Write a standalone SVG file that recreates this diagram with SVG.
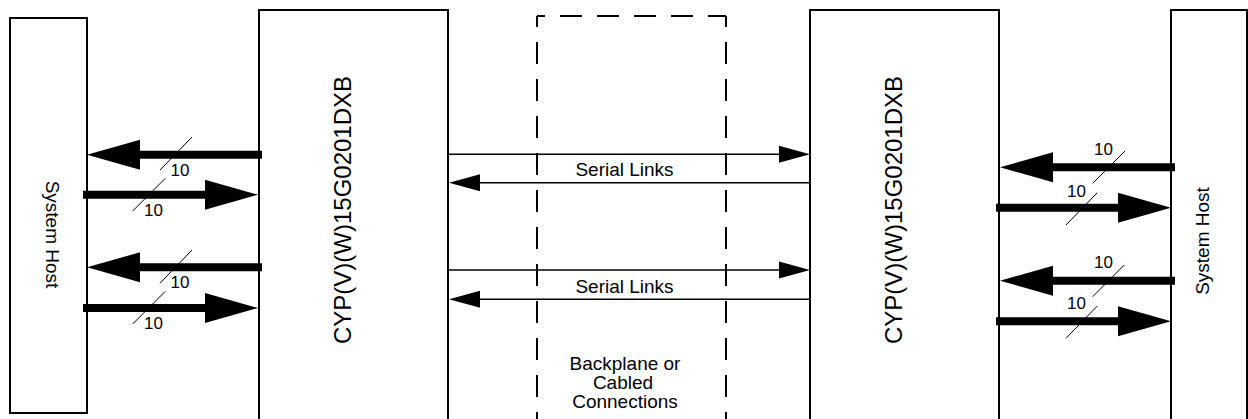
<svg xmlns="http://www.w3.org/2000/svg" width="1248" height="419" viewBox="0 0 1248 419">
<style>
.box{fill:#fff;stroke:#000;stroke-width:2}
.dash{fill:none;stroke:#000;stroke-width:2;stroke-dasharray:22 15}
.t{font-family:"Liberation Sans",Arial,sans-serif;fill:#000}
.lbl{font-size:19px;text-anchor:middle}
.chip{font-size:24px;text-anchor:middle}
.num{font-size:17px}
.bus{stroke:#000;stroke-width:8;fill:none;marker-end:url(#big)}
.ser{stroke:#000;stroke-width:1.5;fill:none;marker-end:url(#small)}
.sl{stroke:#000;stroke-width:1;fill:none}
</style>
<defs>
<marker id="big" markerUnits="userSpaceOnUse" markerWidth="53" markerHeight="30" refX="0" refY="15" orient="auto" overflow="visible">
<path d="M0,0 L53,15 L0,30 Z" fill="#000"/>
</marker>
<marker id="small" markerUnits="userSpaceOnUse" markerWidth="31" markerHeight="17" refX="0" refY="8.5" orient="auto" overflow="visible">
<path d="M0,0 L31,8.5 L0,17 Z" fill="#000"/>
</marker>
</defs>
<rect width="1248" height="419" fill="#fff"/>

<g id="host-left">
<rect class="box" x="10" y="18" width="77" height="395"/>
<text class="t lbl" transform="translate(45.5,234.5) rotate(90)">System Host</text>
</g>

<g id="chip-left">
<rect class="box" x="259" y="10" width="189" height="430"/>
<text class="t chip" transform="translate(351,210) rotate(-90)">CYP(V)(W)15G0201DXB</text>
</g>

<g id="backplane">
<line class="dash" x1="537" y1="16" x2="537" y2="430" stroke-dashoffset="11"/>
<line class="dash" x1="537" y1="16" x2="726" y2="16" stroke-dashoffset="14"/>
<line class="dash" x1="726" y1="16" x2="726" y2="430" stroke-dashoffset="11"/>
<text class="t lbl" x="625" y="370">Backplane or</text>
<text class="t lbl" x="623" y="389">Cabled</text>
<text class="t lbl" x="625" y="408">Connections</text>
</g>

<g id="chip-right">
<rect class="box" x="810" y="10" width="189" height="430"/>
<text class="t chip" transform="translate(902,210) rotate(-90)">CYP(V)(W)15G0201DXB</text>
</g>

<g id="host-right">
<rect class="box" x="1171" y="10" width="76" height="430"/>
<text class="t lbl" transform="translate(1209,241) rotate(-90)">System Host</text>
</g>

<g id="connectors">
<!-- left parallel buses -->
<line class="bus" x1="262" y1="154.7" x2="140" y2="154.7"/>
<line class="sl" x1="160" y1="170" x2="192" y2="137"/>
<text class="t num" x="170.5" y="175.7">10</text>
<line class="bus" x1="83" y1="194.7" x2="205" y2="194.7"/>
<line class="sl" x1="132.7" y1="211" x2="165.3" y2="178.3"/>
<text class="t num" x="144" y="216">10</text>
<line class="bus" x1="262" y1="267.3" x2="140" y2="267.3"/>
<line class="sl" x1="160" y1="283.3" x2="192" y2="250"/>
<text class="t num" x="170.5" y="288.3">10</text>
<line class="bus" x1="83" y1="308" x2="205" y2="308"/>
<line class="sl" x1="132.7" y1="324" x2="165.3" y2="291.3"/>
<text class="t num" x="144" y="329">10</text>

<!-- serial links -->
<line class="ser" x1="448" y1="154.3" x2="779" y2="154.3"/>
<line class="ser" x1="811" y1="182.7" x2="480" y2="182.7"/>
<text class="t lbl" x="624.5" y="176">Serial Links</text>
<line class="ser" x1="448" y1="270" x2="779" y2="270"/>
<line class="ser" x1="811" y1="299.3" x2="480" y2="299.3"/>
<text class="t lbl" x="624.5" y="292.7">Serial Links</text>

<!-- right parallel buses -->
<line class="bus" x1="1175" y1="167.3" x2="1053" y2="167.3"/>
<line class="sl" x1="1092.7" y1="183.3" x2="1125" y2="151"/>
<text class="t num" x="1094" y="155">10</text>
<line class="bus" x1="996" y1="207.7" x2="1118" y2="207.7"/>
<line class="sl" x1="1066" y1="225" x2="1097.3" y2="192.7"/>
<text class="t num" x="1067" y="196.5">10</text>
<line class="bus" x1="1175" y1="280.7" x2="1053" y2="280.7"/>
<line class="sl" x1="1092.7" y1="296.7" x2="1124.3" y2="265"/>
<text class="t num" x="1094" y="268.3">10</text>
<line class="bus" x1="996" y1="321.3" x2="1118" y2="321.3"/>
<line class="sl" x1="1066" y1="338.3" x2="1097.3" y2="306"/>
<text class="t num" x="1067" y="309.3">10</text>
</g>
</svg>
